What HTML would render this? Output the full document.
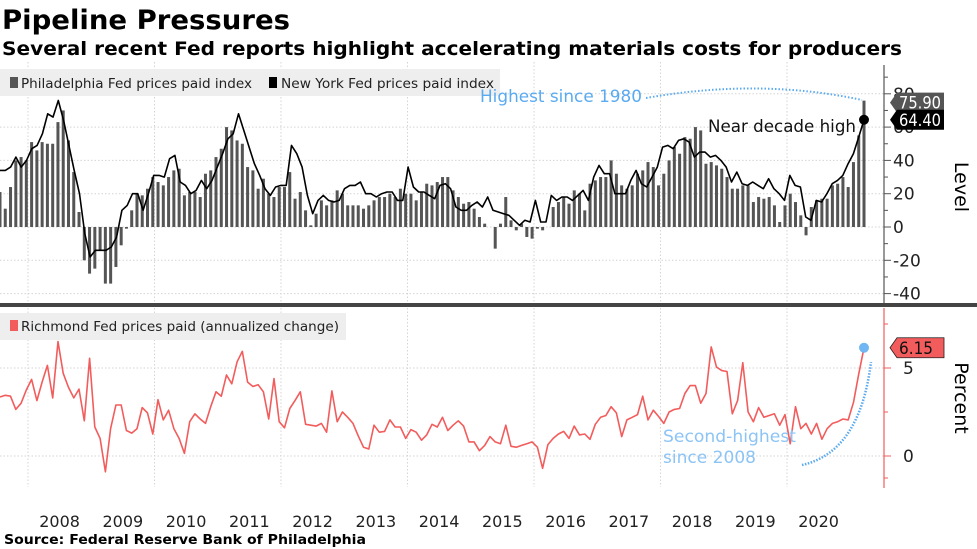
<!DOCTYPE html>
<html><head><meta charset="utf-8"><style>
html,body{margin:0;padding:0;background:#fff;}
svg{display:block;font-family:"DejaVu Sans","Liberation Sans",sans-serif;}
</style></head><body>
<svg id="chart" width="977" height="549" viewBox="0 0 977 549">
<text x="2" y="29" font-size="27" font-weight="bold" textLength="288" lengthAdjust="spacingAndGlyphs">Pipeline Pressures</text>
<text x="2" y="55" font-size="19" font-weight="bold" textLength="900" lengthAdjust="spacingAndGlyphs">Several recent Fed reports highlight accelerating materials costs for producers</text>
<g id="grid"></g>
<rect x="0" y="69" width="500" height="27" fill="#eeeeee"/>
<rect x="10" y="77" width="8" height="11" fill="#555"/>
<text x="21" y="88" font-size="13.5" fill="#222" textLength="231" lengthAdjust="spacingAndGlyphs">Philadelphia Fed prices paid index</text>
<rect x="269" y="77" width="8" height="11" fill="#000"/>
<text x="281" y="88" font-size="13.5" fill="#222" textLength="213" lengthAdjust="spacingAndGlyphs">New York Fed prices paid index</text>
<rect x="0" y="313" width="346" height="27" fill="#eeeeee"/>
<rect x="10" y="320" width="8" height="11" fill="#f25c5c"/>
<text x="21" y="331" font-size="13.5" fill="#222" textLength="318" lengthAdjust="spacingAndGlyphs">Richmond Fed prices paid (annualized change)</text>
<g id="marks"></g>
<rect x="0" y="303" width="977" height="4" fill="#444"/>
<line x1="884" y1="65" x2="884" y2="303" stroke="#555" stroke-width="1.2"/>
<line x1="884" y1="308" x2="884" y2="488" stroke="#f25c5c" stroke-width="1.2"/>
<g id="axes"></g>
<text transform="translate(955,187) rotate(90)" font-size="19" text-anchor="middle">Level</text>
<text transform="translate(955,398) rotate(90)" font-size="19" text-anchor="middle">Percent</text>
<path d="M646,98 Q760,78 862,100" fill="none" stroke="#5aaaf0" stroke-width="2" stroke-dasharray="1.5,2"/>
<text x="480" y="102" font-size="17" fill="#5aaaf0" textLength="162" lengthAdjust="spacingAndGlyphs">Highest since 1980</text>
<text x="708" y="132" font-size="17" fill="#111" textLength="148" lengthAdjust="spacingAndGlyphs">Near decade high</text>
<path d="M802,465 Q860,452 871,362" fill="none" stroke="#5aaaf0" stroke-width="2.5" stroke-dasharray="1.5,1.5"/>
<text x="663" y="442" font-size="17" fill="#8cc4f5" textLength="133" lengthAdjust="spacingAndGlyphs">Second-highest</text>
<text x="663" y="463" font-size="17" fill="#8cc4f5" textLength="93" lengthAdjust="spacingAndGlyphs">since 2008</text>
<text x="4" y="544" font-size="13.5" font-weight="bold" textLength="362" lengthAdjust="spacingAndGlyphs">Source: Federal Reserve Bank of Philadelphia</text>
</svg>
<script>
const philly = [21,11,24,40,42,40,51,46,51,50,50,63,70,52,33,9,-20,-28,-25,-14,-34,-34,-24,-11,-1,10,20,19,23,30,27,25,30,34,35,19,21,21,18,32,34,42,47,60,58,52,50,36,34,23,29,20,18,24,24,33,17,21,10,1,8,16,13,16,22,20,13,13,13,11,13,16,18,18,20,18,23,20,20,16,21,26,25,27,30,
30,22,18,14,15,11,6,2,0,-13,2,18,4,-2,2,-6,-7,-1,-2,0,12,15,18,14,22,20,10,26,28,30,30,40,32,25,23,25,32,34,39,36,25,32,40,48,44,54,53,60,58,38,39,37,35,30,23,23,25,25,15,18,17,18,13,3,13,20,15,7,-5,12,16,17,17,25,26,30,24,39,55,75.9];
const nyfed = [34,34,36,42,36,40,47,49,56,68,66,76,64,49,34,20,-4,-18,-14,-14,-14,-12,-6,10,13,20,20,10,20,31,31,30,41,43,27,25,20,22,28,23,28,36,44,53,56,68,58,48,38,31,23,19,24,25,25,49,44,36,19,8,16,19,16,15,16,23,25,25,27,20,20,18,20,21,21,16,16,36,24,21,21,19,17,25,
26,23,12,10,10,13,15,12,18,10,9,8,7,4,1,4,3,16,3,3,19,16,18,18,16,19,22,16,30,37,32,32,20,20,20,28,34,26,24,30,36,48,49,47,52,53,51,42,45,45,42,43,40,36,27,33,26,25,27,25,23,29,23,20,16,31,25,24,6,4,16,15,20,26,28,31,38,44,54,64.4];
const richmond = [3.35,3.45,3.4,2.65,3.0,3.75,4.35,3.15,4.2,5.15,3.3,6.5,4.7,3.9,3.3,3.8,2.0,5.55,1.65,1.0,-0.9,1.55,2.9,2.9,1.45,1.3,1.55,2.75,2.45,1.25,3.2,2.05,2.6,1.55,1.0,0.15,1.95,2.4,2.1,1.85,2.8,3.65,3.4,4.6,4.1,5.35,5.95,4.2,3.95,4.05,3.65,2.1,4.4,1.95,1.6,2.7,3.15,3.65,1.8,1.75,1.7,1.85,1.35,3.7,1.95,2.5,2.2,1.85,1.15,0.5,0.4,1.75,1.35,1.4,2.05,1.65,1.65,1.0,1.5,1.35,0.9,1.2,1.8,1.65,2.2,
1.45,1.75,2.0,1.7,0.8,0.8,0.3,0.6,1.1,0.8,0.7,1.75,0.55,0.5,0.6,0.7,0.8,0.5,-0.7,0.65,1.0,1.25,1.4,1.0,1.7,1.2,1.25,0.95,1.8,2.2,2.3,2.8,2.45,1.1,2.05,2.2,2.35,3.4,2.05,2.6,2.25,1.85,2.5,2.65,2.7,3.55,4.0,4.0,3.0,3.55,6.2,5.05,4.85,4.8,2.4,3.15,5.3,2.5,1.95,2.75,2.2,2.3,2.4,1.75,2.35,0.7,2.8,1.55,1.85,1.25,1.85,0.95,1.55,1.85,1.95,2.1,2.05,3.05,4.65,6.15];
const yearLabels = ["2008","2009","2010","2011","2012","2013","2014","2015","2016","2017","2018","2019","2020"];
const topTicks = [-40,-20,0,20,40,60,80];
const bottomTicks = [0,5];

const NS = "http://www.w3.org/2000/svg";
const X0 = 0, X1 = 864;
function xIdx(i, n){ return X0 + (X1 - X0) * i / (n - 1); }
function yTop(v){ return 227 - v * 33.3 / 20; }
function yBot(v){ return 456 - v * 17.6; }
function xYear(k){ return 28 + k * 63.25; }
function mk(tag, attrs, parent){ const e = document.createElementNS(NS, tag); for (const k in attrs) e.setAttribute(k, attrs[k]); parent.appendChild(e); return e; }
const grid = document.getElementById('grid'), marks = document.getElementById('marks'), axes = document.getElementById('axes');

for (let k = 0; k <= 12; k += 2) {
  const l = mk('line', {x1: xYear(k), x2: xYear(k), y1: 62, y2: 303, stroke: '#d4d4d4', 'stroke-dasharray': '1.5,2'}, grid);
  
  
  const l2 = mk('line', {x1: xYear(k), x2: xYear(k), y1: 308, y2: 487, stroke: '#d4d4d4', 'stroke-dasharray': '1.5,2'}, grid);
  
  
}
topTicks.forEach(t => {
  const y = yTop(t);
  const g = mk('line', {x1: 0, x2: 884, y1: y, y2: y, stroke: '#d4d4d4', 'stroke-dasharray': '1.5,2'}, grid);
  
  
  const tk = mk('line', {x1: 884, x2: 891, y1: y, y2: y, stroke: '#555'}, axes);
  
  
  const mt = mk('line', {x1: 884, x2: 888, y1: yTop(t + 10), y2: yTop(t + 10), stroke: '#555'}, axes);
  
  
  const tx = mk('text', {x: 893, y: y + 6, 'font-size': 17, fill: '#222'}, axes);
  tx.textContent = t < 0 ? '-' + Math.abs(t) : String(t);
  
  
});
bottomTicks.forEach(t => {
  const y = yBot(t);
  const g = mk('line', {x1: 0, x2: 884, y1: y, y2: y, stroke: '#d4d4d4', 'stroke-dasharray': '1.5,2'}, grid);
  
  
  const tk = mk('line', {x1: 884, x2: 891, y1: y, y2: y, stroke: '#f25c5c'}, axes);
  
  
  const tx = mk('text', {x: 903, y: y + 6, 'font-size': 17, fill: '#222'}, axes);
  tx.textContent = String(t);
  
  
});
[-1.25, 2.5, 7.5].forEach(t => {
  const tk = mk('line', {x1: 884, x2: 888, y1: yBot(t), y2: yBot(t), stroke: '#f25c5c'}, axes);
  
  
});
yearLabels.forEach((lab, k) => {
  const tx = mk('text', {x: xYear(k) + 31.6, y: 527, 'font-size': 16, 'text-anchor': 'middle', fill: '#222'}, axes);
  tx.textContent = lab;
  
  
});

philly.forEach((v, i) => {
  const x = xIdx(i, philly.length), y0 = yTop(0), y = yTop(v);
  const b = mk('rect', {x: x - 1.5, y: Math.min(y, y0), width: 3, height: Math.abs(y - y0), fill: '#555'}, marks);
  
  
});
const nyPts = nyfed.map((v, i) => xIdx(i, nyfed.length).toFixed(1) + ',' + yTop(v).toFixed(1)).join(' ');
const nyLine = mk('polyline', {points: nyPts, fill: 'none', stroke: '#000', 'stroke-width': 1.6, 'stroke-linejoin': 'round'}, marks);


const rPts = richmond.map((v, i) => xIdx(i, richmond.length).toFixed(1) + ',' + yBot(v).toFixed(1)).join(' ');
const rLine = mk('polyline', {points: rPts, fill: 'none', stroke: '#f25c5c', 'stroke-width': 1.6, 'stroke-linejoin': 'round'}, marks);



const lastNY = nyfed[nyfed.length - 1], lastPh = philly[philly.length - 1], lastR = richmond[richmond.length - 1];
const nd = mk('circle', {cx: X1, cy: yTop(lastNY), r: 5, fill: '#000'}, marks);


const rd = mk('circle', {cx: X1, cy: yBot(lastR), r: 5, fill: '#6fb6f2'}, marks);



function valueTag(y, txt, bg, fg, name) {
  const g = mk('g', {}, axes);
  
  
  mk('path', {d: `M890,${y} L897,${y - 10} L944,${y - 10} L944,${y + 10} L897,${y + 10} Z`, fill: bg, stroke: bg === '#f25c5c' ? '#222' : 'none', 'stroke-width': 0.8}, g);
  const t = mk('text', {x: 899, y: y + 6, 'font-size': 17, fill: fg, textLength: txt.length > 4 ? 42 : 34, lengthAdjust: 'spacingAndGlyphs'}, g);
  t.textContent = txt;
}
valueTag(yTop(lastPh) + 2, lastPh.toFixed(2), '#555', '#fff', 'philadelphia-value-tag');
valueTag(yTop(lastNY), lastNY.toFixed(2), '#000', '#fff', 'new-york-value-tag');
valueTag(yBot(lastR), lastR.toFixed(2), '#f25c5c', '#111', 'richmond-value-tag');
</script>
</body></html>
